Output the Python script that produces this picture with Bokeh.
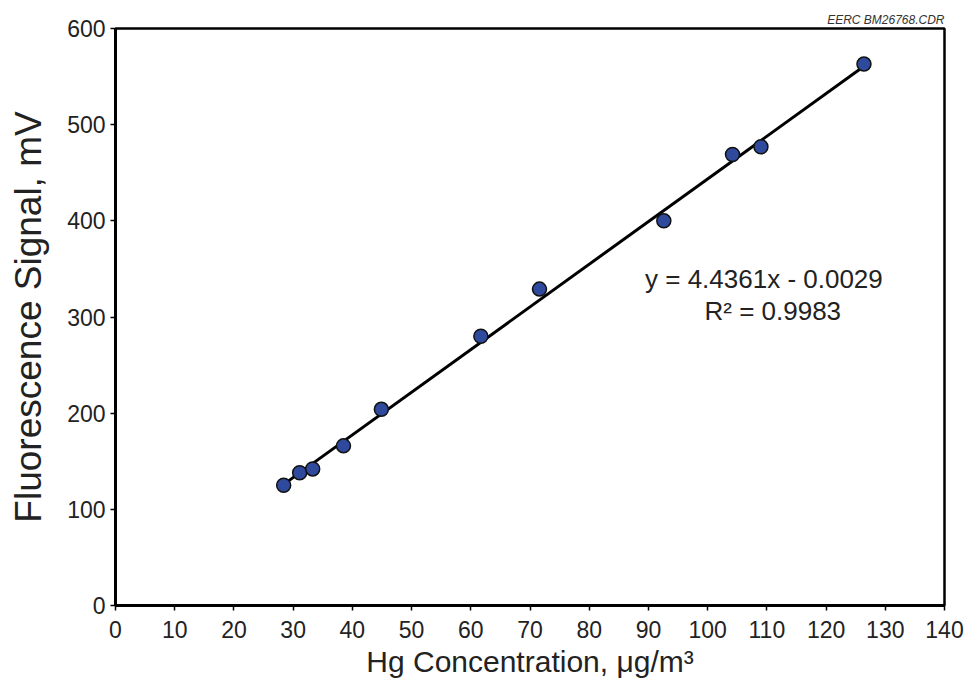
from bokeh.plotting import figure
from bokeh.models import Range1d, Label, FixedTicker
from bokeh.embed import file_html
from bokeh.resources import INLINE

# Data
hg_conc = [28.4, 31.1, 33.3, 38.5, 44.9, 61.7, 71.6, 92.6, 104.2, 109.0, 126.4]
signal = [125, 138, 142, 166, 204, 280, 329, 400, 469, 477, 563]
slope = 4.4361
intercept = -0.0029
x_ticks = list(range(0, 141, 10))
y_ticks = list(range(0, 601, 100))

FONT = "Liberation Sans"

p = figure(width=970, height=682, output_backend="svg", toolbar_location=None,
           x_range=Range1d(0, 140), y_range=Range1d(0, 600),
           min_border_left=115, min_border_right=26, min_border_top=28,
           min_border_bottom=77)

p.title.text = "EERC BM26768.CDR"
p.title.align = "right"
p.title.text_font = FONT
p.title.text_font_style = "italic"
p.title.text_font_size = "12px"
p.title.text_color = "#333333"
p.title.standoff = 4

p.xgrid.visible = False
p.ygrid.visible = False
p.outline_line_color = "black"
p.outline_line_width = 2.5
p.outline_line_alpha = 1.0

for ax in (p.xaxis[0], p.yaxis[0]):
    ax.axis_line_width = 3
    ax.axis_line_color = "black"
    ax.major_tick_line_width = 1.5
    ax.major_tick_in = 0
    ax.major_tick_out = 5
    ax.minor_tick_line_color = None
    ax.major_label_text_font = FONT
    ax.major_label_text_font_size = "23px"
    ax.major_label_text_color = "#222222"
    ax.axis_label_text_font = FONT
    ax.axis_label_text_font_style = "normal"
    ax.axis_label_text_color = "#222222"

p.xaxis.axis_label_text_font_size = "30px"
p.yaxis.axis_label_text_font_size = "37px"
p.xaxis.ticker = FixedTicker(ticks=x_ticks)
p.yaxis.ticker = FixedTicker(ticks=y_ticks)
p.xaxis.major_label_standoff = 10
p.yaxis.major_label_standoff = 5
p.xaxis.axis_label = "Hg Concentration, \u03bcg/m\u00b3"
p.yaxis.axis_label = "Fluorescence Signal, mV"
p.xaxis.axis_label_standoff = 4
p.yaxis.axis_label_standoff = 15

# Fit line over data range
x0, x1 = min(hg_conc), max(hg_conc)
p.line([x0, x1], [slope * x0 + intercept, slope * x1 + intercept],
       line_color="black", line_width=3)

p.scatter(hg_conc, signal, size=14, fill_color="#2f4a9c", line_color="#111111",
          line_width=1.5)

p.add_layout(Label(x=109.5, y=340, text="y = 4.4361x - 0.0029", text_align="center",
                   text_baseline="middle", text_font=FONT, text_font_size="26px",
                   text_color="#222222"))
p.add_layout(Label(x=111, y=306.5, text="R\u00b2 = 0.9983", text_align="center",
                   text_baseline="middle", text_font=FONT, text_font_size="26px",
                   text_color="#222222"))

open("out.html", "w").write(file_html(p, INLINE))
